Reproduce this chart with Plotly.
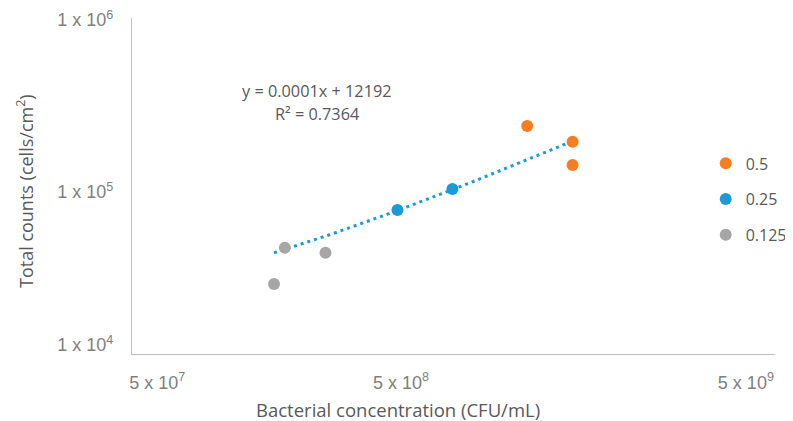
import numpy as np
import plotly.graph_objects as go

# ---- data ----
series_names = ["0.5", "0.25", "0.125"]
series_colors = ["#F57E20", "#1B9AD6", "#A6A6A6"]
x_05 = [1.31e9, 1.73e9, 1.73e9]
y_05 = [227500, 183500, 133400]
x_025 = [5.92e8, 8.29e8]
y_025 = [72000, 96000]
x_0125 = [2.78e8, 2.97e8, 3.81e8]
y_0125 = [26100, 42900, 40100]

# trendline as stated on the chart: y = 0.0001x + 12192
trend_slope = 0.0001
trend_intercept = 12192
equation_text = "y = 0.0001x + 12192"
r2_text = "R² = 0.7364"

# tick labels (placed where they appear in the picture)
x_tick_vals = [1.36e8, 6.05e8, 5.0e9]
x_tick_text = ["5 x 10<sup>7</sup>", "5 x 10<sup>8</sup>", "5 x 10<sup>9</sup>"]
y_tick_vals = [1.13e4, 9.21e4, 9.73e5]
y_tick_text = ["1 x 10<sup>4</sup>", "1 x 10<sup>5</sup>", "1 x 10<sup>6</sup>"]

x_title = "Bacterial concentration (CFU/mL)"
y_title = "Total counts (cells/cm<sup>2</sup>)"

xs = [x_05, x_025, x_0125]
ys = [y_05, y_025, y_0125]

fig = go.Figure()

all_x = x_05 + x_025 + x_0125
tx = np.logspace(np.log10(min(all_x)), np.log10(max(all_x)), 60)
ty = trend_slope * tx + trend_intercept
fig.add_trace(go.Scatter(x=tx, y=ty, mode="lines", showlegend=False,
                         line=dict(color="#1B9AD6", width=3, dash="3px,4px"),
                         hoverinfo="skip"))

for name, col, xv, yv in zip(series_names, series_colors, xs, ys):
    fig.add_trace(go.Scatter(x=xv, y=yv, mode="markers", name=name,
                             legendgroup=name,
                             marker=dict(color=col, size=12, line=dict(width=0))))

# page body has an 8px margin, so the figure is 8px smaller than the window
fig.update_layout(
    width=785, height=413,
    margin=dict(l=124, r=18, t=10, b=67, autoexpand=False),
    paper_bgcolor="white", plot_bgcolor="white",
    font=dict(family="Open Sans", color="#595959", size=16),
    legend=dict(x=1.026, y=0.618, xanchor="right", yanchor="top",
                font=dict(size=16, color="#595959"),
                tracegroupgap=12, traceorder="grouped",
                bgcolor="rgba(0,0,0,0)", itemsizing="constant"),
)
fig.update_xaxes(type="log", range=[8.0663, 9.7764], showgrid=False, zeroline=False,
                 showline=True, linecolor="#BFBFBF", linewidth=1.3, automargin=False,
                 tickvals=x_tick_vals, ticktext=x_tick_text, ticks="",
                 ticklabelstandoff=12, ticklabeloverflow="allow",
                 tickfont=dict(family="Liberation Sans", size=18, color="#808080"))
fig.update_yaxes(type="log", range=[4, 6], showgrid=False, zeroline=False,
                 showline=True, linecolor="#BFBFBF", linewidth=1.3, automargin=False,
                 tickvals=y_tick_vals, ticktext=y_tick_text, ticks="",
                 ticklabelstandoff=14, ticklabeloverflow="allow",
                 tickfont=dict(family="Liberation Sans", size=18, color="#808080"))

fig.add_annotation(text=x_title, xref="paper", yref="paper",
                   x=(398 - 132) / 643, y=(354 - 409) / 336,
                   xanchor="center", yanchor="middle", showarrow=False,
                   font=dict(size=18.5, color="#595959"))
fig.add_annotation(text=y_title, xref="paper", yref="paper",
                   x=(25 - 132) / 643, y=(354 - 191) / 336, textangle=-90,
                   xanchor="center", yanchor="middle", showarrow=False,
                   font=dict(size=18, color="#595959"))
fig.add_annotation(text=equation_text, xref="paper", yref="paper",
                   x=(316.5 - 132) / 643, y=(354 - 91) / 336,
                   xanchor="center", yanchor="middle", showarrow=False,
                   font=dict(size=16.3, color="#595959"))
fig.add_annotation(text=r2_text, xref="paper", yref="paper",
                   x=(316.5 - 132) / 643, y=(354 - 114) / 336,
                   xanchor="center", yanchor="middle", showarrow=False,
                   font=dict(size=16.3, color="#595959"))

fig.write_html("out.html")
